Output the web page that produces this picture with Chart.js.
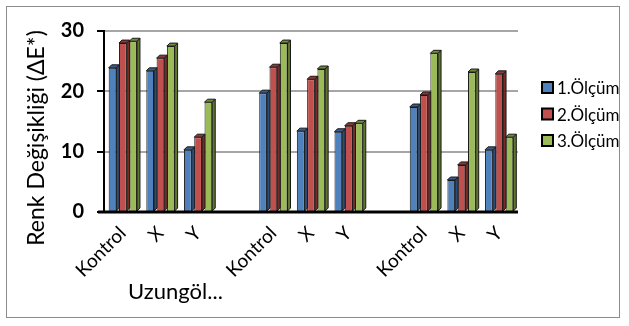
<!DOCTYPE html>
<html>
<head>
<meta charset="utf-8">
<script src="https://cdn.jsdelivr.net/npm/chart.js@4.4.1/dist/chart.umd.min.js"></script>
<style>
  html, body { margin: 0; padding: 0; background: #fff; }
  #wrap { position: relative; width: 629px; height: 326px; }
  #frame { position: absolute; left: 6px; top: 6px; width: 614px; height: 312px; border: 1px solid #8c8c8c; box-sizing: border-box; }
  canvas { position: absolute; left: 0; top: 0; }
</style>
</head>
<body>
<div id="wrap">
  <div id="frame"></div>
  <canvas id="chart" width="629" height="326"></canvas>
</div>
<script>
const categories = ['Kontrol', 'X', 'Y', '', 'Kontrol', 'X', 'Y', '', 'Kontrol', 'X', 'Y'];
const groupLabels = ['Uzungöl...'];
const olcum1 = [23.9, 23.4, 10.3, null, 19.7, 13.4, 13.3, null, 17.4, 5.3, 10.3];
const olcum2 = [28.0, 25.5, 12.4, null, 24.0, 22.0, 14.3, null, 19.4, 7.8, 22.9];
const olcum3 = [28.3, 27.5, 18.2, null, 28.0, 23.7, 14.7, null, 26.3, 23.2, 12.4];
const yTicks = [0, 10, 20, 30];
const yTitle = 'Renk Değişikliği (ΔE*)';

const fontFamily = 'Lato, "Open Sans", sans-serif';

const colors = [
    { face: '#4F81BD', side: '#2c4d75', top: '#385d8a' },
    { face: '#C0504D', side: '#772c2a', top: '#8c3836' },
    { face: '#9BBB59', side: '#5f7530', top: '#71893f' }
];

// fake 3d sides on every bar
const bars3d = {
    id: 'bars3d',
    afterDatasetsDraw(chart) {
        const ctx = chart.ctx;
        const d = 3;
        chart.data.datasets.forEach((ds, i) => {
            const meta = chart.getDatasetMeta(i);
            meta.data.forEach((bar, j) => {
                if (ds.data[j] == null) return;
                const w = bar.width / 2;
                const l = bar.x - w, r = bar.x + w, t = bar.y, b = bar.base;
                ctx.save();
                ctx.lineWidth = 1;
                ctx.strokeStyle = '#1a1a1a';
                ctx.fillStyle = colors[i].side;
                ctx.beginPath();
                ctx.moveTo(r, t); ctx.lineTo(r + d, t - d); ctx.lineTo(r + d, b - d); ctx.lineTo(r, b);
                ctx.closePath(); ctx.fill(); ctx.stroke();
                ctx.fillStyle = colors[i].top;
                ctx.beginPath();
                ctx.moveTo(l, t); ctx.lineTo(l + d, t - d); ctx.lineTo(r + d, t - d); ctx.lineTo(r, t);
                ctx.closePath(); ctx.fill(); ctx.stroke();
                ctx.restore();
            });
        });
        // x axis line drawn over bars
        const xs = chart.scales.x, ys = chart.scales.y;
        ctx.save();
        ctx.strokeStyle = '#000';
        ctx.lineWidth = 3;
        ctx.beginPath();
        ctx.moveTo(xs.left - 6, ys.bottom);
        ctx.lineTo(xs.right, ys.bottom);
        ctx.stroke();
        ctx.restore();
    }
};

// y title, second level category label, legend
const extras = {
    id: 'extras',
    afterDraw(chart) {
        const ctx = chart.ctx;
        const xs = chart.scales.x;
        ctx.save();
        ctx.fillStyle = '#000';
        ctx.textAlign = 'center';
        ctx.textBaseline = 'middle';

        ctx.save();
        ctx.translate(37, 138);
        ctx.rotate(-Math.PI / 2);
        ctx.font = '23px ' + fontFamily;
        ctx.fillText(yTitle, 0, 0);
        ctx.restore();

        ctx.font = '22px ' + fontFamily;
        groupLabels.forEach((g, k) => {
            ctx.fillText(g, xs.getPixelForValue(k * 4 + 1) + 15, 292);
        });

        ctx.font = '17px ' + fontFamily;
        ctx.textAlign = 'left';
        chart.data.datasets.forEach((ds, i) => {
            const y = 88 + i * 26.5;
            ctx.fillStyle = ds.backgroundColor;
            ctx.fillRect(542, y - 6, 11, 11);
            ctx.strokeStyle = '#000';
            ctx.lineWidth = 2;
            ctx.strokeRect(542, y - 6, 11, 11);
            ctx.fillStyle = '#000';
            ctx.fillText(ds.label, 557, y + 1);
        });
        ctx.restore();
    }
};

new Chart(document.getElementById('chart'), {
    type: 'bar',
    data: {
        labels: categories,
        datasets: [
            { label: '1.Ölçüm', data: olcum1, backgroundColor: colors[0].face },
            { label: '2.Ölçüm', data: olcum2, backgroundColor: colors[1].face },
            { label: '3.Ölçüm', data: olcum3, backgroundColor: colors[2].face }
        ].map(ds => Object.assign(ds, {
            borderColor: '#1a1a1a',
            borderWidth: 1,
            borderSkipped: 'bottom',
            barPercentage: 0.75,
            categoryPercentage: 0.82
        }))
    },
    options: {
        responsive: false,
        animation: false,
        layout: { padding: { top: 31, right: 111, left: 0, bottom: 0 } },
        plugins: {
            legend: { display: false },
            tooltip: { enabled: false }
        },
        scales: {
            x: {
                grid: { display: false, drawTicks: false },
                border: { display: false },
                ticks: {
                    autoSkip: false,
                    minRotation: 45, maxRotation: 45,
                    color: '#000',
                    padding: 10,
                    font: { family: fontFamily, size: 19 }
                },
                afterFit(scale) { scale.height = 114; }
            },
            y: {
                min: 0, max: 30,
                afterBuildTicks(scale) { scale.ticks = yTicks.map(v => ({ value: v })); },
                grid: { color: '#a6a6a6', lineWidth: 2, tickLength: 7, tickColor: '#000' },
                border: { color: '#000', width: 2 },
                ticks: {
                    color: '#000',
                    padding: 13,
                    font: { family: fontFamily, size: 20, weight: 'bold' }
                },
                afterFit(scale) { scale.width = 104; }
            }
        }
    },
    plugins: [bars3d, extras]
});
</script>
</body>
</html>
